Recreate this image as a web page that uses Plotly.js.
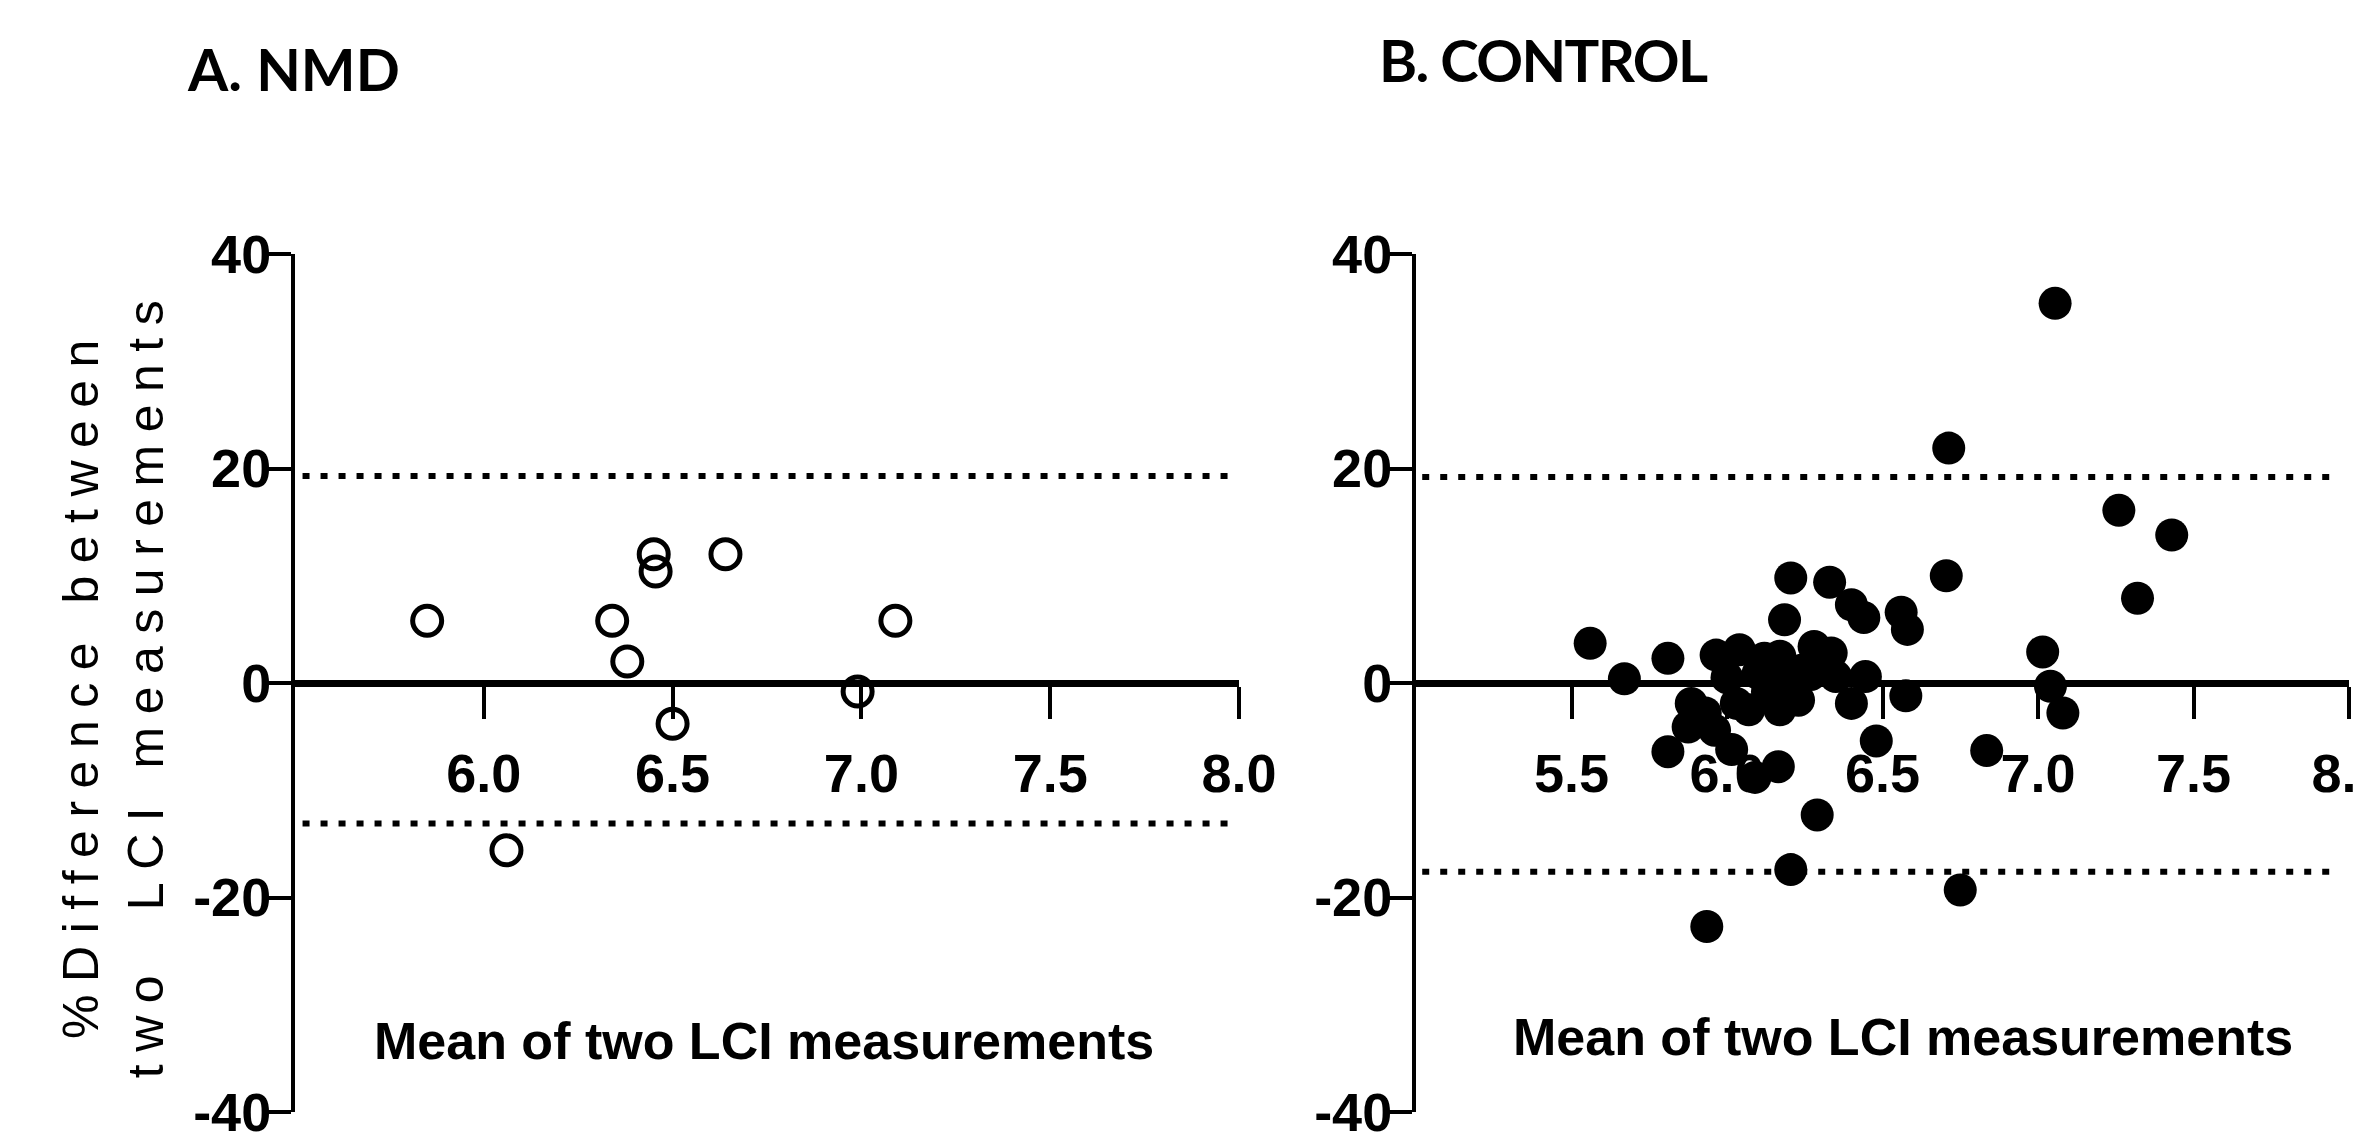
<!DOCTYPE html>
<html>
<head>
<meta charset="utf-8">
<script src="https://cdn.plot.ly/plotly-3.0.1.min.js"></script>
<style>
  html, body { margin: 0; padding: 0; background: #ffffff; }
  #chart { width: 2354px; height: 1136px; }
  .ytitle { letter-spacing: 12.5px; }
  g.annotation[data-index="1"] text { letter-spacing: -1.6px; }
</style>
</head>
<body>
<div id="chart"></div>
<script>
// ---------- data ----------
const panelTitles = ["A. NMD", "B. CONTROL"];
const xAxisTitle = "Mean of two LCI measurements";
const yAxisTitle = "%Difference between<br>two\u00a0 LCI measurements";

// Panel A (NMD): mean of two LCI vs % difference
const nmdMean = [5.85, 6.06, 6.34, 6.38, 6.45, 6.455, 6.50, 6.64, 6.99, 7.09];
const nmdDiff = [5.8, -15.6, 5.8, 2.0, 12.0, 10.4, -3.8, 12.0, -0.8, 5.8];
const nmdLimits = [19.3, -13.1];      // upper / lower limits of agreement
const nmdLimitX = [5.52, 7.97];
const nmdXRange = [5.5, 8.0];
const nmdXTicks = [6.0, 6.5, 7.0, 7.5, 8.0];
const nmdXTickText = ["6.0", "6.5", "7.0", "7.5", "8.0"];

// Panel B (Control)
const ctrlMean = [5.56, 5.67, 5.81, 5.81, 5.935, 5.885, 5.93, 5.875, 5.96, 5.965,
                  6.04, 6.12, 6.03, 6.07, 6.015, 6.09, 6.165, 6.155, 6.17, 6.24,
                  6.23, 6.17, 6.185, 6.205, 6.33, 6.28, 6.335, 6.35, 6.445, 6.40,
                  6.40, 6.44, 6.56, 6.58, 6.575, 6.48, 6.29, 6.205, 6.75, 6.835,
                  6.705, 6.713, 7.055, 7.015, 7.04, 7.08, 7.26, 7.43, 7.32, 6.10,
                  6.00, 6.13, 6.27, 6.30];
const ctrlDiff = [3.7, 0.4, 2.3, -6.4, -22.7, -1.9, -2.8, -4.1, -4.4, 2.6,
                  3.1, 2.3, -1.9, -2.5, -6.2, -8.8, -7.8, 0.3, 2.5, 1.2,
                  -1.6, -2.5, 5.9, 9.8, 9.4, 3.4, 2.8, 0.6, 0.6, -1.9,
                  7.3, 6.1, 6.6, 5.0, -1.2, -5.4, -12.3, -17.4, -19.3, -6.3,
                  10.0, 21.9, 35.4, 2.9, -0.3, -2.8, 16.1, 13.8, 7.9, 0.9,
                  0.5, -0.8, 0.8, 2.0];
const ctrlLimits = [19.2, -17.6];
const ctrlLimitX = [5.02, 7.97];
const ctrlXRange = [5.0, 8.0];
const ctrlXTicks = [5.5, 6.0, 6.5, 7.0, 7.5, 8.0];
const ctrlXTickText = ["5.5", "6.0", "6.5", "7.0", "7.5", "8.0"];

const yRange = [-40, 40];
const yTicks = [-40, -20, 0, 20, 40];
const yTickText = ["-40", "-20", "0", "20", "40"];

// ---------- styling ----------
const W = 2354, H = 1136;
const px = v => v / W;
const py = v => (H - v) / H;

const boldFont = {family: "'Liberation Sans', Arial, sans-serif", size: 52, color: "#000", weight: "bold"};
const tickFont = {family: "'Liberation Sans', Arial, sans-serif", size: 54, color: "#000", weight: "bold"};
const dotted = {color: "#000", width: 6, dash: "7px,11px"};

function limitTrace(xs, y, xa, ya) {
  return {x: xs, y: [y, y], xaxis: xa, yaxis: ya, mode: "lines", line: dotted, hoverinfo: "skip"};
}

const traces = [
  limitTrace(nmdLimitX, nmdLimits[0], "x", "y"),
  limitTrace(nmdLimitX, nmdLimits[1], "x", "y"),
  limitTrace(ctrlLimitX, ctrlLimits[0], "x2", "y2"),
  limitTrace(ctrlLimitX, ctrlLimits[1], "x2", "y2"),
  {x: nmdMean, y: nmdDiff, xaxis: "x", yaxis: "y", mode: "markers",
   marker: {symbol: "circle-open", size: 29, color: "#000", line: {width: 5, color: "#000"}}},
  {x: ctrlMean, y: ctrlDiff, xaxis: "x2", yaxis: "y2", mode: "markers",
   marker: {symbol: "circle", size: 33, color: "#000"}}
];

const yDom = [py(1112), py(254)];
const zeroPos = (yDom[0] + yDom[1]) / 2;

function xAxis(domain, range, ticks, text) {
  return {domain: domain, range: range, anchor: "free", position: zeroPos,
          showline: true, linewidth: 7, linecolor: "#000",
          ticks: "outside", ticklen: 32, tickwidth: 4, tickcolor: "#000",
          tickmode: "array", tickvals: ticks, ticktext: text, tickfont: tickFont,
          ticklabelstandoff: 8, ticklabeloverflow: "allow",
          showgrid: false, zeroline: false, fixedrange: true};
}
function yAxis(anchor) {
  return {domain: yDom, range: yRange, anchor: anchor,
          showline: true, linewidth: 4, linecolor: "#000",
          ticks: "outside", ticklen: 25, tickwidth: 4, tickcolor: "#000",
          tickmode: "array", tickvals: yTicks, ticktext: yTickText, tickfont: tickFont,
          ticklabelstandoff: -16, ticklabeloverflow: "allow",
          showgrid: false, zeroline: false, fixedrange: true};
}

const layout = {
  width: W, height: H,
  margin: {l: 0, r: 0, t: 0, b: 0},
  paper_bgcolor: "#fff", plot_bgcolor: "rgba(0,0,0,0)",
  showlegend: false,
  xaxis: xAxis([px(295), px(1239)], nmdXRange, nmdXTicks, nmdXTickText),
  xaxis2: xAxis([px(1416), px(2349)], ctrlXRange, ctrlXTicks, ctrlXTickText),
  yaxis: Object.assign(yAxis("x"), {
    title: {text: yAxisTitle, standoff: 15,
            font: {family: "'Liberation Sans', Arial, sans-serif", size: 50, color: "#000"}}
  }),
  yaxis2: yAxis("x2"),
  annotations: [
    {text: panelTitles[0], xref: "paper", yref: "paper", x: px(185), y: py(68),
     xanchor: "left", yanchor: "middle", align: "left", showarrow: false,
     font: {family: "Lato, 'Open Sans', sans-serif", size: 58, color: "#000", weight: "bold"}},
    {text: panelTitles[1], xref: "paper", yref: "paper", x: px(1377), y: py(59),
     xanchor: "left", yanchor: "middle", align: "left", showarrow: false,
     font: {family: "Lato, 'Open Sans', sans-serif", size: 58, color: "#000", weight: "bold"}},
    {text: xAxisTitle, xref: "paper", yref: "paper", x: px(764), y: py(1041),
     xanchor: "center", yanchor: "middle", showarrow: false, font: boldFont},
    {text: xAxisTitle, xref: "paper", yref: "paper", x: px(1903), y: py(1037),
     xanchor: "center", yanchor: "middle", showarrow: false, font: boldFont}
  ]
};

Plotly.newPlot("chart", traces, layout, {displayModeBar: false, staticPlot: true});
</script>
</body>
</html>
